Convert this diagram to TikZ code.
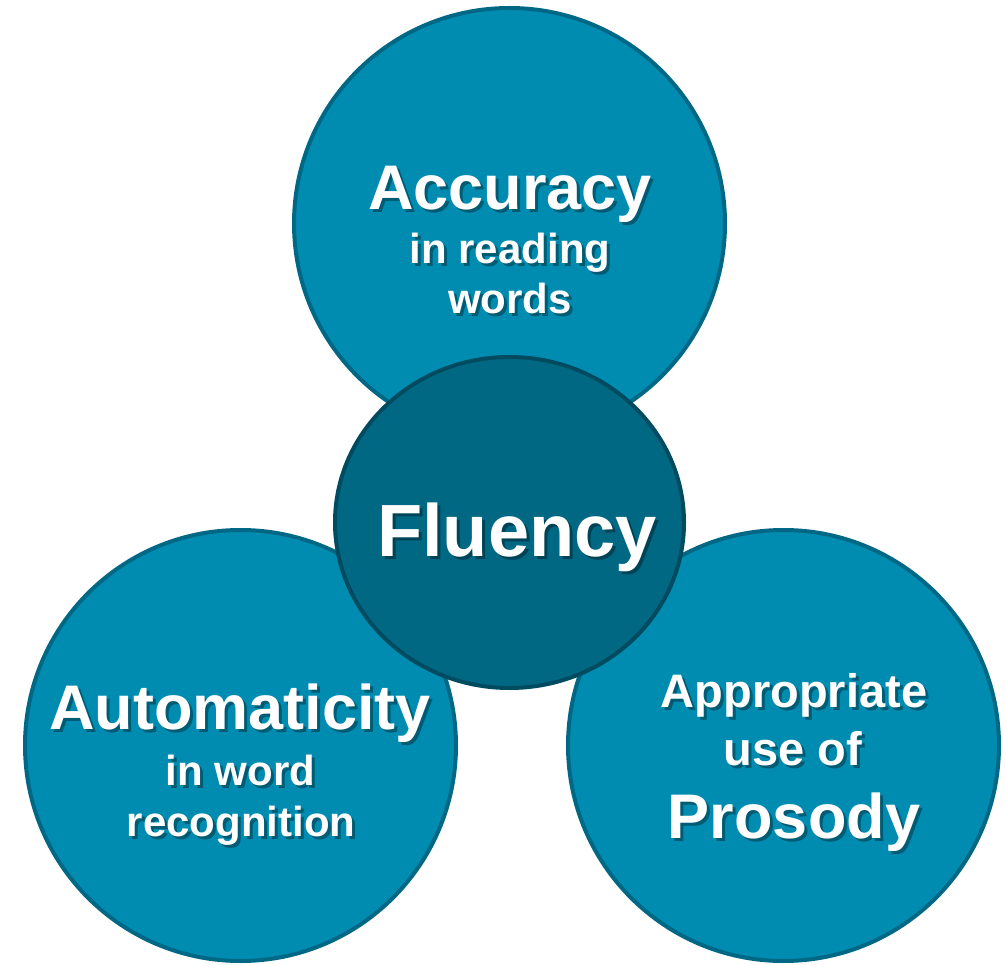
\documentclass[tikz,border=0pt]{standalone}
\usepackage{fontspec}
\setmainfont{Liberation Sans}
\usetikzlibrary{shapes.geometric}
\definecolor{outerfill}{HTML}{008CB1}
\definecolor{outerline}{HTML}{006884}
\definecolor{centerfill}{HTML}{006883}
\definecolor{centerline}{HTML}{004B5F}
\definecolor{outershadow}{HTML}{005B73}
\definecolor{centershadow}{HTML}{004356}
\tikzset{
  outercirc/.style={circle, draw=outerline, fill=outerfill, line width=4pt, minimum size=431pt, inner sep=0pt},
  centercirc/.style={ellipse, draw=centerline, fill=centerfill, line width=4pt, inner sep=0pt},
  txtbase/.style={anchor=base, inner sep=0pt, text=white},
}
\newcommand{\shtext}[2]{\rlap{\kern3pt\raisebox{-3pt}{\color{#1}#2}}#2}
\newcommand{\mytext}[6]{%
  \node[txtbase, font=\fontsize{#4}{#4}\selectfont\bfseries] (#1) at (#2,#3) {\shtext{#6}{#5}};
}
\begin{document}
\begin{tikzpicture}[x=1pt,y=-1pt]
\useasboundingbox (0,0) rectangle (1006,965);
\node[outercirc] (top) at (509.5,223.5) {};
\node[outercirc] (left) at (240.5,745.5) {};
\node[outercirc] (right) at (783.5,745.5) {};
\node[centercirc, minimum width=349pt, minimum height=331pt] (center) at (509.5,522.5) {};
% top
\mytext{acc}{510}{210}{63}{Accuracy}{outershadow}
\mytext{inr}{510}{264}{42}{in reading}{outershadow}
\mytext{wor}{510}{314}{42}{words}{outershadow}
% center
\mytext{flu}{517}{556}{74}{Fluency}{centershadow}
% left
\mytext{aut}{240}{729}{63}{Automaticity}{outershadow}
\mytext{inw}{240.5}{785}{42}{in word}{outershadow}
\mytext{rec}{241}{836}{42}{recognition}{outershadow}
% right
\mytext{app}{794}{707}{47}{Appropriate}{outershadow}
\mytext{use}{793}{765}{47}{use of}{outershadow}
\mytext{pro}{794}{838}{63}{Prosody}{outershadow}
\end{tikzpicture}
\end{document}
